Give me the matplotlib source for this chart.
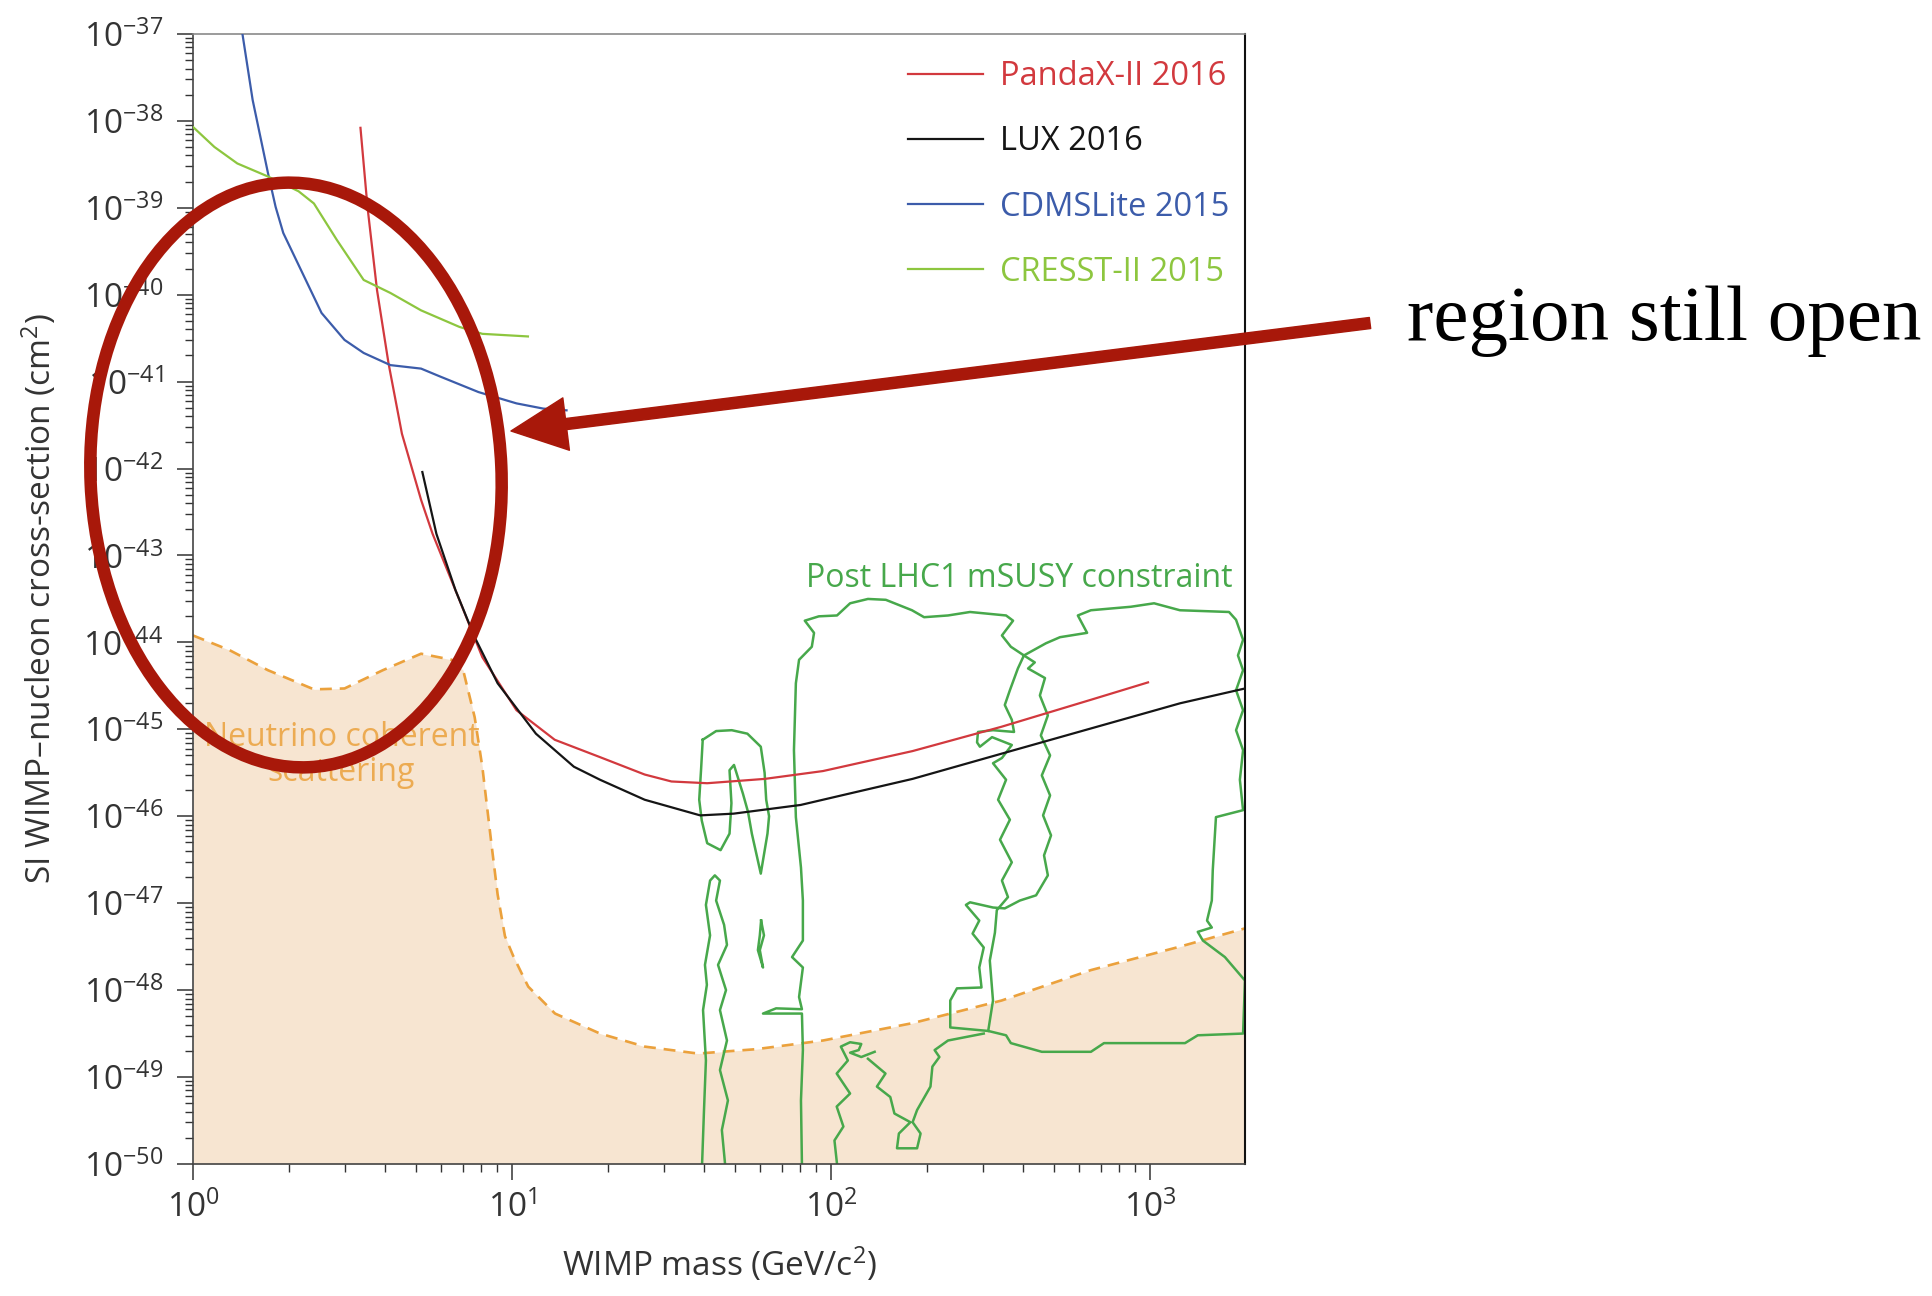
import numpy as np
import matplotlib
matplotlib.use("Agg")
import matplotlib.pyplot as plt
from matplotlib.patches import Ellipse, FancyArrowPatch
from matplotlib.ticker import LogLocator, NullFormatter

plt.rcParams['font.family'] = ['Open Sans', 'DejaVu Sans']
plt.rcParams['mathtext.fontset'] = 'custom'
plt.rcParams['mathtext.rm'] = 'Open Sans'
plt.rcParams['mathtext.it'] = 'Open Sans:italic'
plt.rcParams['mathtext.default'] = 'regular'

# all values, as log10(mass / GeV) and log10(sigma / cm^2)
pandax_logm = [0.525, 0.547, 0.577, 0.613, 0.655, 0.715, 0.751, 0.835, 0.907, 1.014, 1.134,
               1.276, 1.416, 1.5, 1.612, 1.793, 1.975, 2.256, 2.535, 2.815, 2.994]
pandax_logs = [-38.08, -38.99, -39.95, -40.79, -41.60, -42.36, -42.75, -43.51, -44.17, -44.78, -45.12,
               -45.32, -45.52, -45.60, -45.62, -45.57, -45.48, -45.25, -44.97, -44.66, -44.46]

lux_logm = [0.719, 0.763, 0.823, 0.883, 0.955, 1.075, 1.194, 1.276, 1.416, 1.59, 1.695,
            1.905, 2.045, 2.256, 2.535, 2.815, 3.095, 3.298]
lux_logs = [-42.04, -42.75, -43.40, -43.94, -44.47, -45.05, -45.43, -45.58, -45.81, -45.99, -45.97,
            -45.87, -45.75, -45.57, -45.28, -44.99, -44.70, -44.53]

cdms_logm = [0.155, 0.187, 0.235, 0.259, 0.283, 0.343, 0.403, 0.475, 0.535, 0.619, 0.715,
             0.774, 0.895, 1.014, 1.098, 1.171]
cdms_logs = [-37.0, -37.76, -38.60, -38.99, -39.29, -39.75, -40.21, -40.52, -40.67, -40.81, -40.85,
             -40.94, -41.12, -41.25, -41.31, -41.33]

cresst_logm = [0.0, 0.067, 0.139, 0.235, 0.331, 0.379, 0.451, 0.535, 0.619, 0.715, 0.835, 0.907, 1.05]
cresst_logs = [-38.07, -38.30, -38.49, -38.64, -38.81, -38.95, -39.37, -39.83, -39.98, -40.18,
               -40.37, -40.45, -40.48]

nu_logm = [0.0, 0.115, 0.235, 0.379, 0.475, 0.595, 0.715, 0.811, 0.847, 0.883, 0.907, 0.935,
           0.955, 0.978, 1.003, 1.036, 1.051, 1.135, 1.276, 1.416, 1.583, 1.765, 1.975, 2.256,
           2.535, 2.815, 3.094, 3.298]
nu_logs = [-43.92, -44.09, -44.32, -44.54, -44.53, -44.32, -44.13, -44.20, -44.32, -44.86, -45.43,
           -46.30, -46.90, -47.38, -47.60, -47.85, -47.96, -48.27, -48.50, -48.65, -48.73, -48.68,
           -48.58, -48.38, -48.12, -47.77, -47.50, -47.29]

# mSUSY contour pieces
susy_loop_logm = [1.598, 1.640, 1.689, 1.738, 1.780, 1.792, 1.797, 1.806, 1.801, 1.780, 1.752, 1.740,
                  1.724, 1.696, 1.682, 1.688, 1.682, 1.654, 1.612, 1.595, 1.587, 1.593, 1.598]
susy_loop_logs = [-45.12, -45.02, -45.01, -45.05, -45.20, -45.50, -45.81, -46.00, -46.20, -46.66, -46.20,
                  -45.95, -45.74, -45.41, -45.47, -45.85, -46.20, -46.39, -46.31, -46.05, -45.81, -45.45, -45.12]

susy_tube_logm = [1.596, 1.602, 1.608, 1.599, 1.611, 1.605, 1.621, 1.608, 1.621, 1.636, 1.652, 1.640,
                  1.665, 1.674, 1.646, 1.671, 1.652, 1.674, 1.652, 1.677, 1.658, 1.668]
susy_tube_logs = [-50.0, -49.38, -48.81, -48.23, -47.94, -47.71, -47.37, -47.02, -46.74, -46.68, -46.74,
                  -46.97, -47.25, -47.48, -47.71, -48.0, -48.23, -48.58, -48.92, -49.27, -49.61, -50.0]

susy_sliver_logm = [1.781, 1.790, 1.777, 1.787, 1.771, 1.777, 1.781]
susy_sliver_logs = [-47.20, -47.37, -47.54, -47.74, -47.54, -47.37, -47.20]

susy_a_logm = [1.909, 1.906, 1.912, 1.909, 1.787, 1.828, 1.909, 1.900, 1.912, 1.878, 1.912, 1.912,
               1.906, 1.890, 1.884, 1.890, 1.900, 1.940, 1.947, 1.918, 1.962, 2.019, 2.060, 2.116,
               2.172, 2.254, 2.292, 2.367, 2.436, 2.549, 2.571, 2.536, 2.564, 2.605,
               2.586, 2.561, 2.545, 2.567, 2.574, 2.508, 2.461, 2.458, 2.467, 2.505, 2.567, 2.536,
               2.508, 2.549, 2.524, 2.561, 2.530, 2.567, 2.536, 2.555,
               2.520, 2.514, 2.498, 2.508, 2.493,
               2.549, 2.564, 2.661, 2.815, 2.856, 3.110, 3.150, 3.292,
               3.298, 3.235, 3.166, 3.150, 3.194, 3.179, 3.194, 3.197, 3.207, 3.292, 3.282, 3.292,
               3.270, 3.292, 3.270, 3.292, 3.276, 3.292, 3.270,
               3.248, 3.094, 3.013, 2.940, 2.815, 2.774, 2.803, 2.718, 2.674, 2.605]
susy_a_logs = [-50.0, -49.27, -48.69, -48.27, -48.27, -48.21, -48.22, -48.08, -47.74, -47.62, -47.43, -46.97,
               -46.59, -46.01, -45.24, -44.47, -44.20, -44.05, -43.89, -43.75, -43.70, -43.69, -43.55, -43.50,
               -43.51, -43.63, -43.71, -43.69, -43.65, -43.69, -43.75, -43.92, -44.05, -44.15,
               -44.30, -44.55, -44.72, -44.89, -45.03, -45.01, -45.03, -45.15, -45.20, -45.09, -45.18, -45.33,
               -45.39, -45.58, -45.81, -46.04, -46.27, -46.53, -46.74, -46.93,
               -47.08, -47.34, -47.66, -48.12, -48.47,
               -48.52, -48.61, -48.71, -48.71, -48.61, -48.61, -48.52, -48.50,
               -47.89, -47.62, -47.43, -47.33, -47.28, -47.20, -46.97, -46.62, -46.01, -45.93, -45.58, -45.24,
               -45.01, -44.78, -44.55, -44.32, -44.15, -43.97, -43.74,
               -43.65, -43.63, -43.55, -43.59, -43.63, -43.69, -43.89, -43.94, -44.01, -44.15]

susy_b_logm = [2.605, 2.639, 2.618, 2.671, 2.655, 2.680, 2.658, 2.687, 2.661, 2.687, 2.665, 2.690,
               2.668, 2.680, 2.643, 2.592, 2.545, 2.508, 2.436, 2.423, 2.437, 2.465, 2.444, 2.479,
               2.465, 2.472, 2.395, 2.374, 2.374, 2.493]
susy_b_logs = [-44.15, -44.23, -44.30, -44.41, -44.61, -44.84, -45.07, -45.30, -45.53, -45.76, -45.99, -46.22,
               -46.45, -46.68, -46.91, -46.97, -47.06, -47.05, -46.99, -47.02, -47.08, -47.20, -47.35, -47.51,
               -47.74, -47.97, -47.98, -48.12, -48.43, -48.47]

susy_d1_logm = [2.019, 2.011, 2.039, 2.018, 2.060, 2.018, 2.053, 2.031, 2.060, 2.095, 2.087, 2.060, 2.095, 2.137]
susy_d1_logs = [-50.0, -49.73, -49.57, -49.34, -49.19, -48.96, -48.81, -48.65, -48.60, -48.62, -48.69,
                -48.72, -48.77, -48.71]

susy_d2_logm = [2.116, 2.171, 2.144, 2.186, 2.199, 2.249, 2.213, 2.207, 2.270, 2.281, 2.256, 2.270,
                2.312, 2.318, 2.340, 2.325, 2.367, 2.479]
susy_d2_logs = [-48.79, -48.96, -49.11, -49.23, -49.42, -49.52, -49.65, -49.82, -49.82, -49.65, -49.52,
                -49.38, -49.11, -48.88, -48.77, -48.69, -48.58, -48.50]

labels = ["PandaX-II 2016", "LUX 2016", "CDMSLite 2015", "CRESST-II 2015"]
colors = ["#d2393e", "#151515", "#3c5caa", "#8dc63f"]
susy_color = "#47a84b"
nu_color = "#eba13c"
fill_color = "#f7e5d1"
mark_color = "#a8180a"


def pts(logm, logs):
    return 10.0 ** np.array(logm), 10.0 ** np.array(logs)


fig = plt.figure(figsize=(19.32, 12.96), dpi=100)
ax = fig.add_axes([0.0999, 0.1019, 0.5445, 0.8719])
ax.set_xscale('log')
ax.set_yscale('log')

# neutrino floor
m, s = pts(nu_logm, nu_logs)
ax.fill_between(m, s, 1e-50, color=fill_color, lw=0, zorder=0)
ax.plot(m, s, color=nu_color, lw=1.9, ls=(0, (4.5, 3)), zorder=1)

# mSUSY contours
for lm, ls_ in [(susy_loop_logm, susy_loop_logs), (susy_tube_logm, susy_tube_logs),
                (susy_sliver_logm, susy_sliver_logs), (susy_a_logm, susy_a_logs),
                (susy_b_logm, susy_b_logs), (susy_d1_logm, susy_d1_logs),
                (susy_d2_logm, susy_d2_logs)]:
    m, s = pts(lm, ls_)
    ax.plot(m, s, color=susy_color, lw=1.8, zorder=2)

handles = []
for (lm, ls_), lab, c in zip([(pandax_logm, pandax_logs), (lux_logm, lux_logs),
                              (cdms_logm, cdms_logs), (cresst_logm, cresst_logs)], labels, colors):
    m, s = pts(lm, ls_)
    h, = ax.plot(m, s, color=c, lw=1.6, label=lab, zorder=3)
    handles.append(h)

ax.set_xlim(1, 10 ** 3.298)
ax.set_ylim(1e-50, 1e-37)

ax.legend(handles=handles, loc='upper left', bbox_to_anchor=(0.68, 0.977), frameon=False,
          fontsize=23.5, handlelength=2.3, handletextpad=0.5, labelspacing=0.99,
          borderpad=0, borderaxespad=0, labelcolor='linecolor')

ax.text(0.988, 0.518, "Post LHC1 mSUSY constraint", transform=ax.transAxes, ha='right',
        va='center', fontsize=23, color=susy_color)
ax.text(0.141, 0.362, "Neutrino coherent\nscattering", transform=ax.transAxes, ha='center',
        va='center', fontsize=23, color=nu_color, alpha=0.85, linespacing=1.1)

# axes styling
for loc_ax in [ax.xaxis, ax.yaxis]:
    loc_ax.set_major_locator(LogLocator(base=10, numticks=30))
    loc_ax.set_minor_locator(LogLocator(base=10, subs=np.arange(2, 10), numticks=30))
    loc_ax.set_minor_formatter(NullFormatter())

ax.tick_params(which='major', direction='out', length=11.5, width=1.1, labelsize=24,
               colors='#333333', top=False, right=False)
ax.tick_params(which='minor', direction='out', length=6, width=1.0, colors='#333333',
               top=False, right=False)
ax.tick_params(axis='x', which='major', pad=8)
ax.tick_params(axis='y', which='major', pad=10)

ax.spines['top'].set_color('#8a8a8a')
ax.spines['top'].set_linewidth(1.2)
ax.spines['right'].set_color('#111111')
ax.spines['right'].set_linewidth(1.5)
for sp in ['left', 'bottom']:
    ax.spines[sp].set_color('#444444')
    ax.spines[sp].set_linewidth(1.2)

ax.set_xlabel("WIMP mass (GeV/$c^2$)", fontsize=24, color='#333333')
ax.set_ylabel("SI WIMP–nucleon cross-section (cm$^2$)", fontsize=24, color='#333333')
ax.xaxis.set_label_coords(0.5, -0.072)
ax.yaxis.set_label_coords(-0.128, 0.5)

# hand-drawn style annotation
ell = Ellipse((2.96, 8.21), 4.11, 5.85, angle=2.5, transform=fig.dpi_scale_trans,
              fill=False, ec=mark_color, lw=9, zorder=10)
fig.add_artist(ell)
arr = FancyArrowPatch(posA=(13.70, 9.73), posB=(5.11, 8.65), transform=fig.dpi_scale_trans,
                      arrowstyle='simple,head_length=40,head_width=38,tail_width=8',
                      mutation_scale=1, color=mark_color, shrinkA=0, shrinkB=0, zorder=10)
fig.add_artist(arr)
fig.text(0.7283, 0.7377, "region still open", family='Liberation Serif', fontsize=57,
         va='baseline', ha='left', color='black')

fig.savefig("out.png", dpi=100)
